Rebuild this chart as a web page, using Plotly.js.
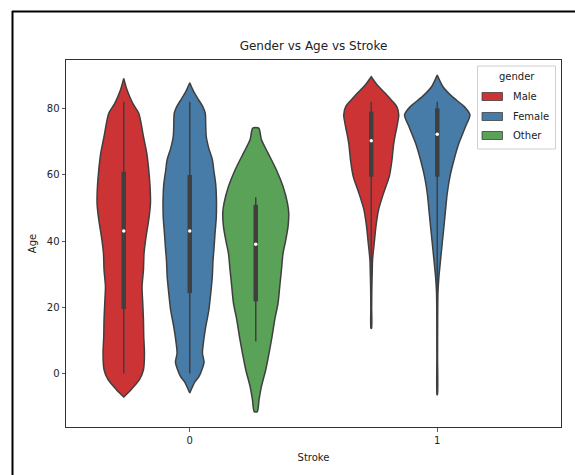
<!DOCTYPE html>
<html>
<head>
<meta charset="utf-8">
<script src="https://cdn.plot.ly/plotly-3.0.1.min.js"></script>
<style>
  html, body { margin: 0; padding: 0; background: #fff; }
  #chart { width: 575px; height: 475px; }
</style>
</head>
<body>
<div id="chart"></div>
<script>
// ---------------- data ----------------
const strokeCategories = [0, 1];
const genders = ["Male", "Female", "Other"];

// Violin outlines: ages and half-widths (density, in relative width units)
const male0Ages    = [-7, -4.8, -1.8, 1.2, 6.2, 11.2, 16.3, 21.3, 26.3, 31.3, 36.3, 41.3, 46.4, 51.4, 56.4, 61.4, 66.5, 71.5, 75.5, 78.5, 81.5, 85.5, 89];
const male0Width   = [0, 7.3, 15.7, 19.7, 20.7, 20, 19.7, 19, 18.3, 19.7, 20.3, 22.3, 25, 26.7, 26.3, 25, 23, 19.7, 17.3, 15, 9, 3.3, 0];

const female0Ages  = [-5.8, -2.5, -0.8, 1.5, 3.5, 6.2, 9, 14.2, 19, 24.3, 29, 34.3, 38, 42.4, 47, 52.4, 57, 61.4, 64.4, 68, 71.5, 74.5, 78.5, 80.5, 82.5, 85, 87.7];
const female0Width = [0, 5, 9.3, 12.5, 14.3, 12.7, 13.5, 16, 19, 21, 22.5, 23.3, 24.3, 25.3, 26.5, 26.7, 26, 24, 22.7, 19, 16.5, 16, 15.5, 13, 9, 4, 0];

const other0Ages   = [-11.4, -7.8, -3.8, 1.2, 6.2, 11.2, 16.3, 21.3, 26.3, 31.3, 36.3, 40.3, 44.4, 48.4, 51.4, 56.4, 61.4, 66.5, 70.5, 74];
const other0Width  = [1.5, 3.3, 5.7, 10, 13.3, 16.3, 19, 22.3, 24, 25.7, 27.3, 30, 32.3, 33, 31.7, 27.3, 20.7, 12.3, 5.7, 3];

const male1Ages    = [13.7, 20, 26, 31, 34.3, 39.4, 44.4, 49.4, 54.4, 59.4, 64.4, 69, 72, 74.5, 78, 80.5, 82.5, 84.5, 87, 89.5];
const male1Width   = [0.3, 0.4, 0.6, 1, 1.3, 3, 4.7, 7.3, 12.3, 18, 20.7, 22.3, 24, 25.7, 27.5, 25.5, 20, 14, 6, 0];

const female1Ages  = [-6.3, 5, 15, 20, 24.3, 29.3, 34.3, 39.4, 44.4, 49.4, 54.4, 59.4, 64.4, 69.5, 74.5, 78, 80.5, 83.5, 86.5, 90];
const female1Width = [0.2, 0.3, 0.4, 0.5, 0.7, 1.7, 3.3, 5, 6.7, 8.3, 10, 12.7, 16.7, 21.7, 28.3, 32.7, 27, 15, 5.7, 0];

// Inner box statistics, in violin order: Male0, Female0, Other0, Male1, Female1
const violinStroke = [0, 0, 0, 1, 1];
const violinGender = ["Male", "Female", "Other", "Male", "Female"];
const q1Values      = [19.5, 24.3, 21.8, 59.4, 59.4];
const medianValues  = [43, 43, 39, 70.2, 72.2];
const q3Values      = [60.9, 59.9, 50.9, 79, 80];
const whiskerLow    = [0.08, 0.08, 9.7, 13.7, -6.3];
const whiskerHigh   = [82, 82, 53.2, 82, 82];

// ---------------- styling ----------------
const genderColor = { Male: "#cb3335", Female: "#477ca8", Other: "#59a257" };
const hueOffset = { Male: -0.8 / 3, Female: 0, Other: 0.8 / 3 };
const widthScale = (0.4 / 3) / 33;   // relative width -> x-axis units
const outline = "#3f3f3f";

const profiles = [
  [male0Ages, male0Width], [female0Ages, female0Width], [other0Ages, other0Width],
  [male1Ages, male1Width], [female1Ages, female1Width]
];

const traces = [];
profiles.forEach(([ages, widths], i) => {
  const pos = violinStroke[i] + hueOffset[violinGender[i]];
  const xs = [], ys = [];
  for (let k = 0; k < ages.length; k++) { xs.push(pos + widths[k] * widthScale); ys.push(ages[k]); }
  for (let k = ages.length - 1; k >= 0; k--) { xs.push(pos - widths[k] * widthScale); ys.push(ages[k]); }
  xs.push(xs[0]); ys.push(ys[0]);
  traces.push({
    type: "scatter", mode: "lines", x: xs, y: ys, fill: "toself",
    fillcolor: genderColor[violinGender[i]],
    line: { color: outline, width: 1.5, shape: "spline", smoothing: 0.7 },
    hoverinfo: "skip", showlegend: false
  });
});
violinStroke.forEach((s, i) => {
  const pos = s + hueOffset[violinGender[i]];
  traces.push({ type: "scatter", mode: "lines", x: [pos, pos], y: [whiskerLow[i], whiskerHigh[i]],
    line: { color: outline, width: 1.5 }, hoverinfo: "skip", showlegend: false });
  traces.push({ type: "scatter", mode: "lines", x: [pos, pos], y: [q1Values[i], q3Values[i]],
    line: { color: outline, width: 4.5 }, hoverinfo: "skip", showlegend: false });
  traces.push({ type: "scatter", mode: "markers", x: [pos], y: [medianValues[i]],
    marker: { color: "#ffffff", size: 3.5, line: { width: 0 } }, hoverinfo: "skip", showlegend: false });
});

// ---------------- layout ----------------
const W = 575, H = 475, L = 66, R = 561, T = 60, B = 427;
const px = (x) => (x - L) / (R - L);
const py = (y) => (B - y) / (B - T);

const shapes = [
  // figure frame
  { type: "line", xref: "paper", yref: "paper", x0: px(12), x1: px(575), y0: py(11.5), y1: py(11.5), line: { color: "#000", width: 2 } },
  { type: "line", xref: "paper", yref: "paper", x0: px(12.5), x1: px(12.5), y0: py(11), y1: py(476), line: { color: "#000", width: 2 } },
  // legend box
  { type: "rect", xref: "paper", yref: "paper", x0: px(477.5), x1: px(555.5), y0: py(149), y1: py(66),
    fillcolor: "rgba(255,255,255,0.85)", line: { color: "#d0d0d0", width: 1 } }
];
const annotations = [
  { xref: "paper", yref: "paper", x: px(516.5), y: py(76.5), text: "gender", showarrow: false,
    xanchor: "center", yanchor: "middle", font: { family: "DejaVu Sans", size: 10, color: "#222" } }
];
const legendRows = [96.5, 116.5, 135.5];
genders.forEach((g, i) => {
  const cy = legendRows[i];
  shapes.push({ type: "rect", xref: "paper", yref: "paper", x0: px(482), x1: px(502.5), y0: py(cy + 4), y1: py(cy - 4),
    fillcolor: genderColor[g], line: { color: outline, width: 0.8 } });
  annotations.push({ xref: "paper", yref: "paper", x: px(511), y: py(cy), text: g, showarrow: false,
    xanchor: "left", yanchor: "middle", font: { family: "DejaVu Sans", size: 10, color: "#222" } });
});

const layout = {
  width: W, height: H,
  margin: { l: L, r: W - R, t: T, b: H - B, pad: 0 },
  paper_bgcolor: "#ffffff", plot_bgcolor: "#ffffff",
  showlegend: false,
  title: { text: "Gender vs Age vs Stroke", x: px(313.5), xref: "paper", xanchor: "center",
    y: 1 - 46 / H, yanchor: "middle", font: { family: "DejaVu Sans", size: 12, color: "#222" } },
  xaxis: {
    range: [-0.5, 1.5], tickvals: strokeCategories, ticktext: strokeCategories.map(String),
    showgrid: false, zeroline: false, showline: true, mirror: true, linecolor: "#333", linewidth: 1,
    ticks: "outside", ticklen: 3.5, tickwidth: 0.8, tickcolor: "#333",
    tickfont: { family: "DejaVu Sans", size: 10, color: "#222" },
    title: { text: "Stroke", standoff: 9, font: { family: "DejaVu Sans", size: 10, color: "#222" } },
    fixedrange: true
  },
  yaxis: {
    range: [-16.05, 94.55], tickvals: [0, 20, 40, 60, 80],
    showgrid: false, zeroline: false, showline: true, mirror: true, linecolor: "#333", linewidth: 1,
    ticks: "outside", ticklen: 3.5, tickwidth: 0.8, tickcolor: "#333",
    tickfont: { family: "DejaVu Sans", size: 10, color: "#222" },
    title: { text: "Age", standoff: 8, font: { family: "DejaVu Sans", size: 10, color: "#222" } },
    fixedrange: true
  },
  shapes: shapes,
  annotations: annotations
};

Plotly.newPlot("chart", traces, layout, { staticPlot: true, displayModeBar: false });
</script>
</body>
</html>
